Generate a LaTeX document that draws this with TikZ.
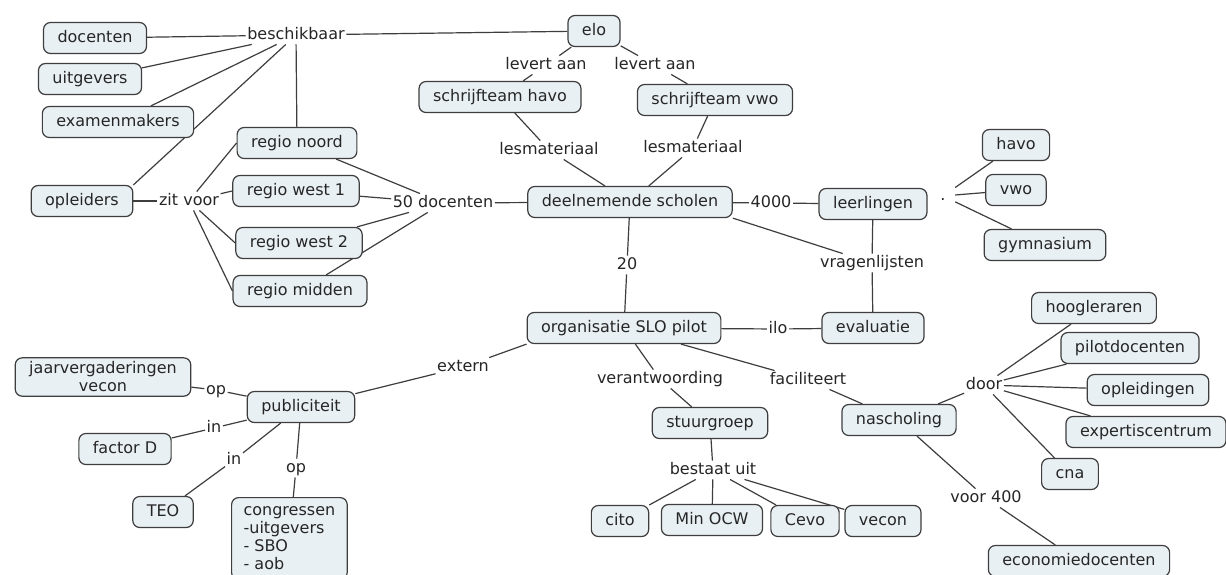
\documentclass[tikz,border=0pt]{standalone}
\usepackage{fontspec}
\setmainfont{DejaVu Sans}
\usetikzlibrary{backgrounds}
\definecolor{boxfill}{RGB}{233,240,244}
\definecolor{linegray}{RGB}{62,62,62}
\tikzset{
  concept/.style={draw=linegray, fill=boxfill, rounded corners=7pt, line width=1.2pt,
    inner xsep=14pt, inner ysep=4pt, minimum height=31pt, text height=12pt, text depth=3.5pt},
  phrase/.style={inner sep=1.5pt, text height=12pt, text depth=3.5pt},
  link/.style={draw=linegray, line width=1.2pt}
}
\begin{document}
\begin{tikzpicture}[x=1pt, y=-1pt, font=\fontsize{16}{18}\selectfont, text=black!85]
        \useasboundingbox (0,0) rectangle (1226,574);
        \node[concept] (docenten) at (95,38) {docenten};
        \node[concept] (uitgevers) at (90,79) {uitgevers};
        \node[concept] (examenmakers) at (118,122) {examenmakers};
        \node[concept] (opleiders) at (82,201) {opleiders};
        \node[concept] (regionoord) at (297,143) {regio noord};
        \node[concept] (regiowesteen) at (296,191) {regio west 1};
        \node[concept] (regiowesttwee) at (299,243) {regio west 2};
        \node[concept] (regiomidden) at (300,291) {regio midden};
        \node[concept] (elo) at (594,31) {elo};
        \node[concept] (schrijfhavo) at (500,97) {schrijfteam havo};
        \node[concept] (schrijfvwo) at (715,100) {schrijfteam vwo};
        \node[concept] (scholen) at (630,202) {deelnemende scholen};
        \node[concept] (leerlingen) at (873,204) {leerlingen};
        \node[concept] (havo) at (1016,145) {havo};
        \node[concept] (vwo) at (1016,190) {vwo};
        \node[concept] (gymnasium) at (1045,245) {gymnasium};
        \node[concept] (evaluatie) at (873,328) {evaluatie};
        \node[concept] (slo) at (624,328) {organisatie SLO pilot};
        \node[concept] (stuurgroep) at (710,423) {stuurgroep};
        \node[concept] (cito) at (620,521) {cito};
        \node[concept] (ocw) at (712,520) {Min OCW};
        \node[concept] (cevo) at (805,521) {Cevo};
        \node[concept] (vecon) at (883,521) {vecon};
        \node[concept] (nascholing) at (899,420) {nascholing};
        \node[concept] (hoogleraren) at (1094,308) {hoogleraren};
        \node[concept] (pilotdoc) at (1130,348) {pilotdocenten};
        \node[concept] (opleidingen) at (1148,390) {opleidingen};
        \node[concept] (expertise) at (1146,432) {expertiscentrum};
        \node[concept] (cna) at (1070,474) {cna};
        \node[concept] (econdoc) at (1079,561) {economiedocenten};
        \node[concept] (publiciteit) at (301,407) {publiciteit};
        \node[concept, align=center, text height={}, text depth={}] (jaarverg) at (103,377) {jaarvergaderingen\\vecon};
        \node[concept] (factord) at (125,449) {factor D};
        \node[concept] (teo) at (163,512) {TEO};
        \node[concept, align=left, anchor=north west, inner xsep=12pt, minimum height=82pt, text height={}, text depth={}] (congressen) at (231,497) {congressen\\-uitgevers\\- SBO\\- aob};
        \node[phrase] (beschikbaar) at (296,35) {beschikbaar};
        \node[phrase] (zitvoor) at (189,201) {zit voor};
        \node[phrase] (vijftig) at (443,203) {50 docenten};
        \node[phrase] (leverthavo) at (546,65) {levert aan};
        \node[phrase] (levertvwo) at (655,65) {levert aan};
        \node[phrase] (lesmathavo) at (549,150) {lesmateriaal};
        \node[phrase] (lesmatvwo) at (693,148) {lesmateriaal};
        \node[phrase] (vierduizend) at (771,203) {4000};
        \node[phrase, minimum width=24pt] (soort) at (943,196) {.};
        \node[phrase] (vragen) at (872,263) {vragenlijsten};
        \node[phrase] (twintig) at (627,265) {20};
        \node[phrase] (ilo) at (778,329) {ilo};
        \node[phrase] (extern) at (463,367) {extern};
        \node[phrase] (verantw) at (660,379) {verantwoording};
        \node[phrase] (facil) at (808,380) {faciliteert};
        \node[phrase] (bestaat) at (713,470) {bestaat uit};
        \node[phrase] (door) at (984,385) {door};
        \node[phrase] (voorvier) at (986,498) {voor 400};
        \node[phrase] (opjaar) at (216,390) {op};
        \node[phrase] (infactor) at (214,428) {in};
        \node[phrase] (inteo) at (234,460) {in};
        \node[phrase] (opcongres) at (296,468) {op};
        \begin{scope}[on background layer]
          \fill[white] (0,0) rectangle (1226,574);
          \draw[link] (beschikbaar) -- (docenten);
          \draw[link] (beschikbaar) -- (uitgevers);
          \draw[link] (beschikbaar) -- (examenmakers);
          \draw[link] (beschikbaar) -- (opleiders.north east);
          \draw[link] (beschikbaar) -- (regionoord);
          \draw[link] (beschikbaar) -- (elo);
          \draw[link] (opleiders) -- (zitvoor);
          \foreach \r in {regionoord, regiowesteen, regiowesttwee, regiomidden} {
            \draw[link] (zitvoor) -- (\r.west);
            \draw[link] (\r) -- (vijftig);
          }
          \draw[link] (vijftig) -- (scholen);
          \draw[link] (elo) -- (leverthavo) -- (schrijfhavo);
          \draw[link] (elo) -- (levertvwo) -- (schrijfvwo);
          \draw[link] (schrijfhavo) -- (lesmathavo) -- (scholen);
          \draw[link] (schrijfvwo) -- (lesmatvwo) -- (scholen);
          \draw[link] (scholen) -- (vierduizend) -- (leerlingen);
          \draw[link] (scholen.south east) -- (vragen);
          \draw[link] (leerlingen) -- (vragen) -- (evaluatie);
          \foreach \s in {havo, vwo, gymnasium}
            \draw[link] (soort) -- (\s);
          \draw[link] (scholen) -- (twintig) -- (slo);
          \draw[link] (slo) -- (ilo) -- (evaluatie);
          \draw[link] (slo.south west) -- (extern) -- (publiciteit);
          \draw[link] (slo) -- (verantw) -- (stuurgroep);
          \draw[link] (slo) -- (facil) -- (nascholing);
          \draw[link] (stuurgroep) -- (bestaat);
          \foreach \s in {cito, ocw, cevo, vecon}
            \draw[link] (bestaat) -- (\s);
          \draw[link] (nascholing) -- (door);
          \foreach \s in {hoogleraren, pilotdoc, opleidingen, expertise, cna}
            \draw[link] (door) -- (\s);
          \draw[link] (nascholing) -- (voorvier) -- (econdoc);
          \draw[link] (publiciteit) -- (opjaar) -- (jaarverg);
          \draw[link] (publiciteit) -- (infactor) -- (factord);
          \draw[link] (publiciteit) -- (inteo) -- (teo);
          \draw[link] (publiciteit) -- (opcongres) -- (congressen);
        \end{scope}
      \end{tikzpicture}
\end{document}
